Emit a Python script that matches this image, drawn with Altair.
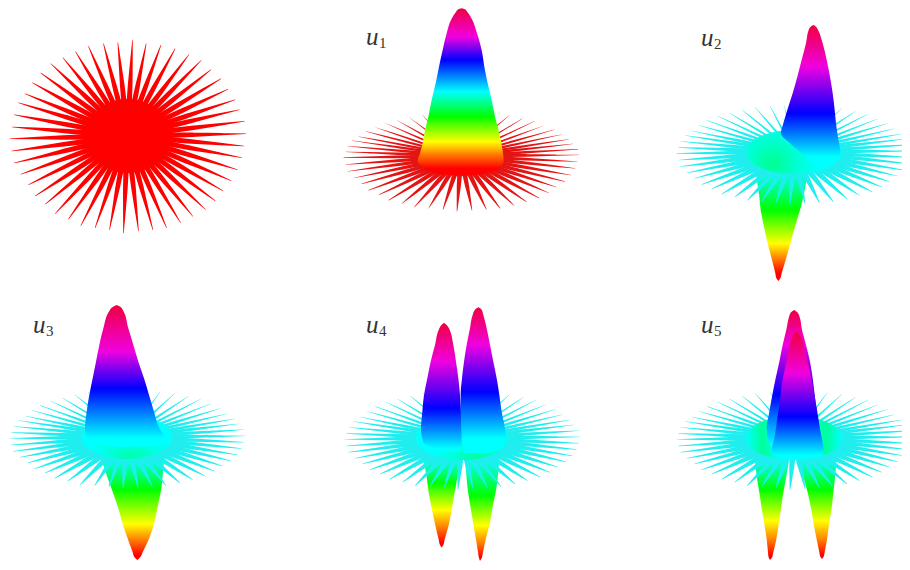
import math
import altair as alt
import pandas as pd

# ---- spike tips (zoom px, 3x, origin 0,20)
TIP_X = [397,438,482,525,566,603,632,662,683,705,717,733,737,731,725,712,693,668,645,616,578,541,499,458,415,370,328,285,242,205,165,136,105,85,62,42,35,30,36,42,55,75,97,122,152,188,226,265,310,353]
TIP_Y = [60,70,75,85,103,120,148,175,207,238,268,303,340,377,412,448,481,511,541,568,588,607,622,628,632,638,628,622,616,596,580,551,527,493,462,428,392,355,320,283,247,220,187,158,130,112,94,78,70,67]
TIP_CX, TIP_CY = 382, 347
SPIKE_T = [0.33, 0.55, 0.8, 1.0]
SPIKE_W = [1.0, 0.85, 0.45, 0.1]

RAINBOW = ["#f00040", "#f000e0", "#0000ff", "#00ffff", "#00ff00", "#ffff00", "#ff8000", "#ff0000"]

# ---- panels: centre, up/down squash, spike width, spike colour
PANELS = {
    "u1": dict(cx=461, cy=156, up=0.46, down=0.57, w=3.2, color="#e41414", ox=340, oy=0, rx=43, ry=20),
    "u2": dict(cx=794, cy=152, up=0.50, down=0.54, w=4.0, color="#20eeee", ox=670, oy=10, rx=48, ry=22),
    "u3": dict(cx=127, cy=437, up=0.50, down=0.53, w=4.0, color="#20eeee", ox=0, oy=295, rx=45, ry=22),
    "u4": dict(cx=462, cy=438, up=0.50, down=0.53, w=4.0, color="#20eeee", ox=340, oy=295, rx=46, ry=22),
    "u5": dict(cx=794, cy=438, up=0.50, down=0.53, w=4.0, color="#20eeee", ox=670, oy=295, rx=48, ry=22),
}

# ---- lobe profiles (zoom px, 3x)
U1_Y = [25,28,36,60,100,150,200,250,300,350,400,430,460,483,500,515,524,528]
U1_L = [365,355,348,333,320,308,297,287,275,265,253,248,240,233,246,272,315,362]
U1_R = [365,375,382,397,411,425,433,443,455,465,478,484,489,491,482,456,410,362]
U1_STOPS = [(25,0),(110,1),(180,2),(275,3),(350,4),(425,5),(462,6),(505,7)]

U2A_Y = [45,50,60,100,150,200,250,300,340,370,400,430,450,470,480]
U2A_L = [430,422,416,408,395,382,368,352,340,333,360,395,420,440,460]
U2A_R = [430,438,444,458,470,480,488,494,498,502,507,512,500,470,460]
U2A_STOPS = [(45,0),(170,1),(310,2),(440,3)]
U2B_Y = [470,520,560,600,650,700,750,790,805,813]
U2B_L = [258,262,268,272,282,293,306,316,319,325]
U2B_R = [415,408,400,390,375,361,347,335,331,325]
U2B_STOPS = [(480,3),(600,4),(700,5),(745,6),(790,7)]

U3A_Y = [30,36,48,100,150,200,250,300,350,400,425,445,455]
U3A_L = [350,338,328,310,298,288,278,268,260,255,258,285,340]
U3A_R = [350,362,370,385,400,415,432,447,462,478,492,490,450]
U3A_STOPS = [(30,0),(170,1),(280,2),(430,3)]
U3B_Y = [480,520,580,650,700,750,790,807,815]
U3B_L = [300,312,332,355,368,384,398,404,412]
U3B_R = [495,490,485,472,462,446,428,420,412]
U3B_STOPS = [(490,3),(590,4),(700,5),(750,6),(800,7)]

U4A_Y = [83,90,100,150,200,250,300,350,400,440,470]
U4A_L = [312,304,298,285,272,262,252,247,243,250,300]
U4A_R = [312,320,327,340,348,355,360,363,365,365,362]
U4A_STOPS = [(83,0),(200,1),(340,2),(460,3)]
U4B_Y = [37,43,60,100,150,200,250,300,350,400,430,460,475]
U4B_L = [415,406,398,390,380,372,366,362,362,365,366,368,372]
U4B_R = [415,424,430,440,450,460,470,478,485,495,498,485,450]
U4B_STOPS = [(37,0),(150,1),(290,2),(430,3)]
U4C_Y = [490,550,600,650,700,750,767,775]
U4C_L = [250,260,266,275,285,296,300,305]
U4C_R = [358,352,344,336,327,314,310,305]
U4C_STOPS = [(490,3),(570,4),(655,5),(710,6),(760,7)]
U4D_Y = [480,530,580,650,700,750,790,809,818]
U4D_L = [372,378,382,392,400,408,414,417,420]
U4D_R = [478,475,470,457,449,437,429,425,420]
U4D_STOPS = [(490,3),(610,4),(705,5),(760,6),(805,7)]

U5A_Y = [45,52,70,100,150,200,250,300,350,400,440,465]
U5A_L = [372,363,356,350,338,328,317,307,298,290,295,320]
U5A_R = [372,382,390,395,408,420,428,434,440,448,458,440]
U5A_STOPS = [(45,0),(150,1),(300,2),(450,3)]
U5B_Y = [110,118,130,170,220,270,320,370,420,470,488]
U5B_L = [380,373,366,355,345,335,330,322,315,305,330]
U5B_R = [380,387,394,405,418,428,437,445,453,462,450]
U5B_STOPS = [(110,0),(235,1),(365,2),(480,3)]
U5C_Y = [490,530,600,650,700,750,790,807,815]
U5C_L = [255,258,268,275,283,290,294,296,300]
U5C_R = [358,352,340,333,326,319,310,306,300]
U5C_STOPS = [(490,3),(590,4),(690,5),(750,6),(800,7)]
U5D_Y = [490,530,600,650,700,750,790,805,812]
U5D_L = [385,395,413,423,431,440,448,451,456]
U5D_R = [500,497,490,485,477,471,464,461,456]
U5D_STOPS = [(490,3),(590,4),(690,5),(750,6),(800,7)]

LABEL_NAMES = ["1", "2", "3", "4", "5"]
LABEL_X = [366, 701, 33, 366, 701]
LABEL_Y = [45, 46, 333, 333, 333]

XS = alt.Scale(domain=[8, 902], nice=False, zero=False)
YS = alt.Scale(domain=[562, 8], nice=False, zero=False)
X = alt.X("x:Q", scale=XS, axis=None)
Y = alt.Y("y:Q", scale=YS, axis=None)


def lobe(panel, ys, ls, rs, stops, squash=1.0):
    p = PANELS[panel]
    base = 455
    py = [p["oy"] + v / 3 for v in ys]
    py = [base + (v - base) * squash if v > base else v for v in py]
    df = pd.DataFrame({
        "y": py,
        "x": [p["ox"] + v / 3 for v in ls],
        "x2": [p["ox"] + v / 3 for v in rs],
    })
    lo, hi = min(ys), max(ys)
    grad = {
        "gradient": "linear", "x1": 0, "y1": 0, "x2": 0, "y2": 1,
        "stops": [{"offset": (s - lo) / (hi - lo), "color": RAINBOW[c]} for s, c in stops],
    }
    return alt.Chart(df).mark_area(orient="horizontal", interpolate="monotone", color=grad).encode(
        y=Y, x=X, x2=alt.X2("x2:Q"))


def spikes(cx, cy, up, down, width, color, front=0.5):
    rows = []
    for k, (tx, ty) in enumerate(zip(TIP_X, TIP_Y)):
        dx = (tx - TIP_CX) / 3
        dy = (ty - TIP_CY) / 3
        sy = dy * (down if dy > 0 else up)
        wk = width * (1 + front * dy / 97)
        for i, (t, w) in enumerate(zip(SPIKE_T, SPIKE_W)):
            rows.append({"x": cx + dx * t, "y": cy + sy * t, "s": k, "i": i, "w": wk * w})
    return alt.Chart(pd.DataFrame(rows)).mark_trail(color=color).encode(
        x=X, y=Y, detail="s:N", order="i:Q", size=alt.Size("w:Q", scale=None, legend=None))


def ellipse(cx, cy, rx, ry, fill):
    rows = []
    for k in range(41):
        a = math.pi * k / 40
        rows.append({
            "y": cy - ry * math.cos(a),
            "x": cx - rx * math.sin(a),
            "x2": cx + rx * math.sin(a),
        })
    return alt.Chart(pd.DataFrame(rows)).mark_area(orient="horizontal", color=fill).encode(
        y=Y, x=X, x2=alt.X2("x2:Q"))


def disk(panel, fill):
    p = PANELS[panel]
    return ellipse(p["cx"], p["cy"], p["rx"], p["ry"], fill)


def radial(cx, cy):
    return {
        "gradient": "radial", "x1": cx, "y1": cy, "r1": 0, "x2": cx, "y2": cy, "r2": 0.5,
        "stops": [{"offset": 0, "color": "#00ff90"}, {"offset": 0.55, "color": "#00ffd8"}, {"offset": 1, "color": "#00ffff"}],
    }


U5_DISK = {
    "gradient": "linear", "x1": 0, "y1": 0, "x2": 1, "y2": 0,
    "stops": [{"offset": 0, "color": "#00ffff"}, {"offset": 0.17, "color": "#00ff98"},
              {"offset": 0.36, "color": "#00ffff"}, {"offset": 0.64, "color": "#00ffff"},
              {"offset": 0.83, "color": "#00ff98"}, {"offset": 1, "color": "#00ffff"}],
}

layers = []
FIT = 0.94

# first panel: red star
layers.append(spikes(127.5, 136, 1.0, 1.0, 5.4, "#ff0000", front=0))
layers.append(ellipse(127.5, 136, 41, 37, "#ff0000"))

# u1
p = PANELS["u1"]
layers.append(spikes(p["cx"], p["cy"], p["up"], p["down"], p["w"], p["color"]))
layers.append(lobe("u1", U1_Y, U1_L, U1_R, U1_STOPS))

# u2
p = PANELS["u2"]
layers.append(lobe("u2", U2B_Y, U2B_L, U2B_R, U2B_STOPS))
layers.append(spikes(p["cx"], p["cy"], p["up"], p["down"], p["w"], p["color"]))
layers.append(disk("u2", radial(0.28, 0.62)))
layers.append(lobe("u2", U2A_Y, U2A_L, U2A_R, U2A_STOPS))

# u3
p = PANELS["u3"]
layers.append(lobe("u3", U3B_Y, U3B_L, U3B_R, U3B_STOPS, FIT))
layers.append(spikes(p["cx"], p["cy"], p["up"], p["down"], p["w"], p["color"]))
layers.append(disk("u3", radial(0.55, 0.85)))
layers.append(lobe("u3", U3A_Y, U3A_L, U3A_R, U3A_STOPS))

# u4
p = PANELS["u4"]
layers.append(lobe("u4", U4C_Y, U4C_L, U4C_R, U4C_STOPS, FIT))
layers.append(lobe("u4", U4D_Y, U4D_L, U4D_R, U4D_STOPS, FIT))
layers.append(spikes(p["cx"], p["cy"], p["up"], p["down"], p["w"], p["color"]))
layers.append(disk("u4", radial(0.68, 0.78)))
layers.append(lobe("u4", U4A_Y, U4A_L, U4A_R, U4A_STOPS))
layers.append(lobe("u4", U4B_Y, U4B_L, U4B_R, U4B_STOPS))

# u5
p = PANELS["u5"]
layers.append(lobe("u5", U5C_Y, U5C_L, U5C_R, U5C_STOPS, FIT))
layers.append(lobe("u5", U5D_Y, U5D_L, U5D_R, U5D_STOPS, FIT))
layers.append(spikes(p["cx"], p["cy"], p["up"], p["down"], p["w"], p["color"]))
layers.append(disk("u5", U5_DISK))
layers.append(lobe("u5", U5A_Y, U5A_L, U5A_R, U5A_STOPS))
layers.append(lobe("u5", U5B_Y, U5B_L, U5B_R, U5B_STOPS))

# labels
lab = pd.DataFrame({"x": LABEL_X, "y": LABEL_Y, "n": LABEL_NAMES})
lab["u"] = "u"
lab["xs"] = lab["x"] + 13
lab["ys"] = lab["y"] + 3
layers.append(alt.Chart(lab).mark_text(font="Liberation Serif", fontStyle="italic", fontSize=25, align="left", baseline="alphabetic", color="#333333").encode(x=X, y=Y, text="u:N"))
layers.append(alt.Chart(lab).mark_text(font="Liberation Serif", fontSize=15, align="left", baseline="alphabetic", color="#333333").encode(
    x=alt.X("xs:Q", scale=XS, axis=None), y=alt.Y("ys:Q", scale=YS, axis=None), text="n:N"))

chart = alt.layer(*layers).properties(
    width=894, height=554, padding=0,
    autosize=alt.AutoSizeParams(type="none"),
).configure_view(stroke=None)
chart.save("out.html", embed_options={"renderer": "svg", "actions": False})
